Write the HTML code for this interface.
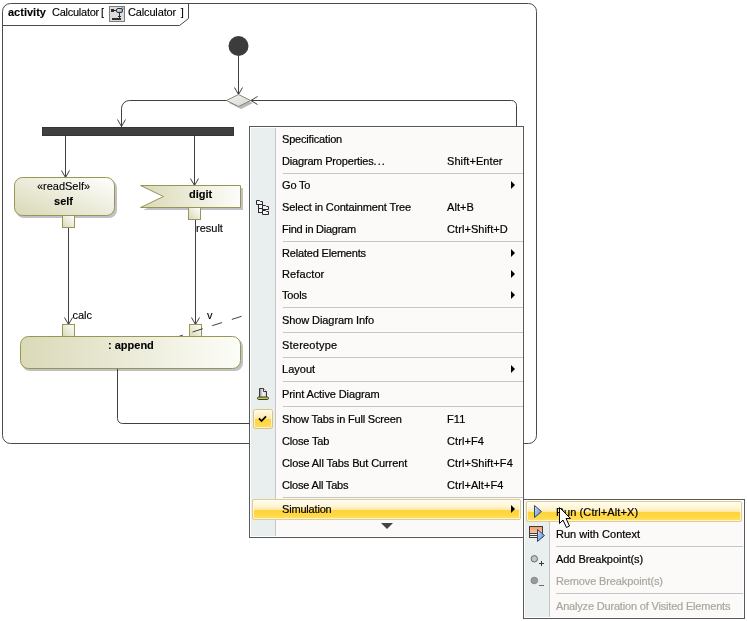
<!DOCTYPE html>
<html><head><meta charset="utf-8">
<style>
html,body{margin:0;padding:0;background:#fff;width:747px;height:621px;overflow:hidden;position:relative}
body{will-change:transform}
.t{position:absolute;font-family:"Liberation Sans",sans-serif;font-size:11px;line-height:13px;white-space:nowrap;color:#000;-webkit-text-stroke:0.12px currentColor}
#menu{position:absolute;left:249px;top:126px;width:273px;height:410px;border:1px solid #595959;background:#fbfaf8;box-shadow:inset 0 0 0 1px #fff}
#menu .side{position:absolute;left:1px;top:1px;width:24px;height:408px;background:#e9eeef;border-right:1px solid #c5c5c5}
.sep{position:absolute;height:1px;background:#c6c6c6}
.hl{position:absolute;border:1px solid #e0cc90;border-radius:2px;box-shadow:inset 0 0 0 1px rgba(255,255,240,0.7);background:linear-gradient(#fffef6 0%,#fff6d6 30%,#ffe9a6 52%,#ffd43a 52.7%,#ffd844 80%,#ffe070 100%)}
.arr{position:absolute;width:0;height:0;border-top:4px solid transparent;border-bottom:4px solid transparent;border-left:4px solid #000}
#sub{position:absolute;left:523px;top:499px;width:220px;height:118px;border:1px solid #595959;background:#fbfaf8;box-shadow:inset 0 0 0 1px #fff}
#sub .side{position:absolute;left:1px;top:1px;width:24px;height:116px;background:#e9eeef;border-right:1px solid #c5c5c5}
.gray{color:#a9a79d}
.m{letter-spacing:-0.18px;-webkit-text-stroke:0.2px currentColor}
.sc{letter-spacing:0.08px;-webkit-text-stroke:0.2px currentColor}
</style></head><body>
<svg width="747" height="621" style="position:absolute;left:0;top:0">
<defs>
<linearGradient id="g1" x1="0" y1="1" x2="1" y2="0"><stop offset="0" stop-color="#d9d8b6"/><stop offset="1" stop-color="#ffffff"/></linearGradient>
<linearGradient id="g2" x1="0" y1="0" x2="1" y2="0"><stop offset="0" stop-color="#dad9b8"/><stop offset="1" stop-color="#fdfdf9"/></linearGradient>
<linearGradient id="gd" x1="0" y1="0" x2="1" y2="1"><stop offset="0" stop-color="#f4f4f4"/><stop offset="1" stop-color="#d6d6d6"/></linearGradient>
</defs>
<!-- frame -->
<path d="M2.5,11.5 A8,8 0 0 1 10.5,3.5 H528.5 A8,8 0 0 1 536.5,11.5 V435.5 A8,8 0 0 1 528.5,443.5 H10.5 A8,8 0 0 1 2.5,435.5 Z" fill="none" stroke="#4a4a4a" stroke-width="1"/>
<path d="M2.5,25.5 H179.5 L188.5,18.5 V3.5" fill="none" stroke="#4a4a4a"/>
<!-- initial node -->
<circle cx="238.5" cy="46" r="10" fill="#3c3c3c"/>
<line x1="238.5" y1="55" x2="238.5" y2="94" stroke="#404040"/>
<path d="M234.5,87.5 L238.5,94.5 L242.5,87.5" fill="none" stroke="#404040"/>
<!-- decision -->
<path d="M229,103 L241,97 L253,103 L241,109 Z" fill="#b8b8b8"/>
<path d="M226.5,100.5 L238.5,94.5 L250.5,100.5 L238.5,106.5 Z" fill="url(#gd)" stroke="#8a8a6a"/>
<path d="M121.5,127 V108.5 A8,8 0 0 1 129.5,100.5 H226.5" fill="none" stroke="#404040"/>
<path d="M117.5,119.5 L121.5,126.5 L125.5,119.5" fill="none" stroke="#404040"/>
<path d="M250.5,100.5 H511.5 A5,5 0 0 1 516.5,105.5 V127" fill="none" stroke="#404040"/>
<path d="M257.5,96.5 L251,100.5 L257.5,104.5" fill="none" stroke="#404040"/>
<!-- fork bar -->
<rect x="42.5" y="127.5" width="191" height="8" fill="#404040" stroke="#353535"/>
<line x1="65.5" y1="136" x2="65.5" y2="177" stroke="#404040"/>
<path d="M61.5,170.5 L65.5,177.5 L69.5,170.5" fill="none" stroke="#404040"/>
<line x1="194.5" y1="136" x2="194.5" y2="185" stroke="#404040"/>
<path d="M190.5,178.5 L194.5,185.5 L198.5,178.5" fill="none" stroke="#404040"/>
<!-- self node -->
<rect x="16" y="180" width="101" height="38" rx="8" fill="#c0c0c6"/>
<rect x="14.5" y="177.5" width="100" height="38" rx="8" fill="url(#g1)" stroke="#989652"/>
<rect x="62.5" y="215.5" width="12" height="12" fill="url(#g1)" stroke="#989652"/>
<line x1="68.5" y1="228" x2="68.5" y2="324" stroke="#404040"/>
<path d="M64.5,317.5 L68.5,324.5 L72.5,317.5" fill="none" stroke="#404040"/>
<!-- digit node -->
<path d="M163.5,188 L243,188 L243,210 L143,210 L166,199.5 L163.5,196.5 Z" fill="#c0c0c6"/>
<path d="M140.5,185.5 L240.5,185.5 L240.5,207.5 L140.5,207.5 L163.5,196.5 Z" fill="url(#g2)" stroke="#989652"/>
<rect x="188.5" y="207.5" width="12" height="12" fill="url(#g1)" stroke="#989652"/>
<line x1="195.5" y1="220" x2="195.5" y2="324" stroke="#404040"/>
<path d="M191.5,317.5 L195.5,324.5 L199.5,317.5" fill="none" stroke="#404040"/>
<!-- append -->
<path d="M173,338.3 L249,313.9" fill="none" stroke="#404040" stroke-dasharray="10.3,10.3"/>
<rect x="22" y="339" width="221" height="32" rx="8" fill="#c0c0c6"/>
<rect x="20.5" y="336.5" width="220" height="32" rx="8" fill="url(#g2)" stroke="#989652"/>
<rect x="62.5" y="324.5" width="12" height="12" fill="url(#g1)" stroke="#989652"/>
<rect x="189.5" y="324.5" width="12" height="12" fill="url(#g1)" stroke="#989652"/>
<path d="M192.6,332 L202.4,328.8" stroke="#404040"/>

<path d="M117.5,369 V418.5 A5,5 0 0 0 122.5,423.5 H250" fill="none" stroke="#404040"/>
<!-- header icon -->
<rect x="109.5" y="6.5" width="15" height="15" fill="#d4d4d4" stroke="#7a7a7a"/>
</svg>
<div class="t" style="left:8px;top:6px;font-weight:bold">activity</div>
<div class="t" style="left:52px;top:6px;letter-spacing:-0.25px">Calculator</div>
<div class="t" style="left:101px;top:6px">[</div>
<div class="t" style="left:128px;top:6px;letter-spacing:-0.15px">Calculator</div>
<div class="t" style="left:180.7px;top:6px">]</div>
<div class="t" style="left:0;width:127px;top:180px;text-align:center">«readSelf»</div>
<div class="t" style="left:0;width:127px;top:195px;text-align:center;font-weight:bold">self</div>
<div class="t" style="left:189px;top:188px;font-weight:bold">digit</div>
<div class="t" style="left:196px;top:222px">result</div>
<div class="t" style="left:72.5px;top:309px">calc</div>
<div class="t" style="left:207px;top:309px">v</div>
<div class="t" style="left:108px;top:339px;font-weight:bold">: append</div>

<div id="menu">
<div class="side"></div>
</div>
<div id="sub"><div class="side"></div></div>
<div class="hl" style="left:252px;top:499px;width:267px;height:19px"></div>
<div class="sep" style="left:283px;top:173px;width:240px"></div>
<div class="sep" style="left:283px;top:241px;width:240px"></div>
<div class="sep" style="left:283px;top:307px;width:240px"></div>
<div class="sep" style="left:283px;top:332px;width:240px"></div>
<div class="sep" style="left:283px;top:357px;width:240px"></div>
<div class="sep" style="left:283px;top:381px;width:240px"></div>
<div class="sep" style="left:283px;top:406px;width:240px"></div>
<div class="sep" style="left:283px;top:497px;width:240px"></div>
<div class="t m" style="left:282px;top:133px">Specification</div>
<div class="t m" style="left:282px;top:155px">Diagram Properties<span style="letter-spacing:1.1px">...</span></div>
<div class="t sc" style="left:447px;top:155px">Shift+Enter</div>
<div class="t m" style="left:282px;top:179px">Go To</div>
<div class="arr" style="left:511px;top:181px"></div>
<div class="t m" style="left:282px;top:201px;letter-spacing:-0.14px">Select in Containment Tree</div>
<div class="t sc" style="left:447px;top:201px">Alt+B</div>
<div class="t m" style="left:282px;top:223px;letter-spacing:-0.25px">Find in Diagram</div>
<div class="t sc" style="left:447px;top:223px">Ctrl+Shift+D</div>
<div class="t m" style="left:282px;top:247px">Related Elements</div>
<div class="arr" style="left:511px;top:249px"></div>
<div class="t m" style="left:282px;top:268px;letter-spacing:0.1px">Refactor</div>
<div class="arr" style="left:511px;top:270px"></div>
<div class="t m" style="left:282px;top:289px">Tools</div>
<div class="arr" style="left:511px;top:291px"></div>
<div class="t m" style="left:282px;top:314px;letter-spacing:-0.09px">Show Diagram Info</div>
<div class="t m" style="left:282px;top:339px;letter-spacing:0.21px">Stereotype</div>
<div class="t m" style="left:282px;top:363px;letter-spacing:0.02px">Layout</div>
<div class="arr" style="left:511px;top:365px"></div>
<div class="t m" style="left:282px;top:388px;letter-spacing:-0.1px">Print Active Diagram</div>
<div class="t m" style="left:282px;top:413px">Show Tabs in Full Screen</div>
<div class="t sc" style="left:447px;top:413px">F11</div>
<div class="t m" style="left:282px;top:435px">Close Tab</div>
<div class="t sc" style="left:447px;top:435px">Ctrl+F4</div>
<div class="t m" style="left:282px;top:457px;letter-spacing:-0.12px">Close All Tabs But Current</div>
<div class="t sc" style="left:447px;top:457px">Ctrl+Shift+F4</div>
<div class="t m" style="left:282px;top:479px">Close All Tabs</div>
<div class="t sc" style="left:447px;top:479px">Ctrl+Alt+F4</div>
<div class="t m" style="left:282px;top:503px">Simulation</div>
<div class="arr" style="left:511px;top:505px"></div>
<div class="arr" style="left:381px;top:523px;border:0;border-left:6px solid transparent;border-right:6px solid transparent;border-top:6px solid #444;margin-left:-0.5px"></div>
<div class="hl" style="left:526px;top:501px;width:214px;height:19px"></div>
<div class="sep" style="left:556px;top:546px;width:187px"></div>
<div class="sep" style="left:556px;top:593px;width:187px"></div>
<div class="t m" style="left:556px;top:506px;letter-spacing:0.09px">Run (Ctrl+Alt+X)</div>
<div class="t m" style="left:556px;top:528px;letter-spacing:0.02px">Run with Context</div>
<div class="t m" style="left:556px;top:553px;letter-spacing:-0.055px">Add Breakpoint(s)</div>
<div class="t m gray" style="left:556px;top:575px;letter-spacing:-0.13px">Remove Breakpoint(s)</div>
<div class="t m gray" style="left:556px;top:600px">Analyze Duration of Visited Elements</div>

<svg width="747" height="621" style="position:absolute;left:0;top:0;pointer-events:none">
<defs>
<linearGradient id="gb" x1="0" y1="0" x2="1" y2="1"><stop offset="0" stop-color="#cfe0f6"/><stop offset="1" stop-color="#4f86cf"/></linearGradient>
<linearGradient id="go" x1="0" y1="0" x2="0" y2="1"><stop offset="0" stop-color="#f49a62"/><stop offset="1" stop-color="#fde4cc"/></linearGradient>
<linearGradient id="gp" x1="0" y1="0" x2="1" y2="0"><stop offset="0" stop-color="#8a8a8a"/><stop offset="0.5" stop-color="#f4f4f4"/><stop offset="1" stop-color="#d0d0d0"/></linearGradient>
<linearGradient id="gc" x1="0" y1="0" x2="0" y2="1"><stop offset="0" stop-color="#fffdf0"/><stop offset="0.49" stop-color="#ffe9a0"/><stop offset="0.5" stop-color="#ffd43a"/><stop offset="1" stop-color="#ffdc60"/></linearGradient>
<linearGradient id="gi" x1="0" y1="0" x2="1" y2="1"><stop offset="0" stop-color="#f2f6fc"/><stop offset="1" stop-color="#7d9cc6"/></linearGradient>
</defs>
<!-- header diagram icon -->
<path d="M109.5,6.5 H121 L124.5,10 V21.5 H109.5 Z" fill="#dcdcdc" stroke="#7c7c7c"/>
<path d="M120.5,7 L124,10.5 L119.5,10.5 Z" fill="#ffffff"/>
<rect x="111" y="9" width="3" height="3" fill="#2e2e2e"/>
<rect x="114" y="10" width="3" height="1" fill="#2e2e2e"/>
<rect x="116.5" y="8.5" width="6" height="4" rx="1.5" fill="url(#gi)" stroke="#303030"/>
<rect x="119" y="12" width="1" height="6" fill="#2e2e2e"/>
<rect x="118" y="16" width="3" height="1" fill="#2e2e2e"/>
<rect x="112" y="18" width="9" height="2" fill="#2e2e2e"/>
<!-- tree icon -->
<g fill="#f2f2f2" stroke="#2a2a2a">
<rect x="258.5" y="204.5" width="4" height="8"/>
<path d="M258.5,208.5 H262.5" fill="none"/>
<path d="M256.5,204.5 V200.5 H259.5 L260.5,201.5 H262.5 V204.5 Z"/>
<path d="M262.5,209.5 V205.5 H265.5 L266.5,206.5 H268.5 V209.5 Z"/>
<path d="M262.5,214.5 V210.5 H265.5 L266.5,211.5 H268.5 V214.5 Z"/>
</g>
<!-- print icon -->
<path d="M259.5,388.5 H263.5 L266.5,391.5 V397.5 H259.5 Z" fill="url(#gp)" stroke="#3a3a3a"/>
<path d="M263.5,388.5 V391.5 H266.5" fill="#fff" stroke="#3a3a3a"/>
<rect x="257.5" y="397" width="11" height="2.5" rx="1.2" fill="#c4d030" stroke="#3a3a3a"/>
<!-- check box -->
<rect x="253.5" y="409.5" width="19" height="19" rx="2" fill="url(#gc)" stroke="#d8c284"/>
<rect x="254.5" y="410.5" width="17" height="17" rx="1" fill="none" stroke="#fffbe8" stroke-opacity="0.8"/>
<path d="M259,418.3 L261.5,421 L266,416.3" fill="none" stroke="#000" stroke-width="1.7"/>
<!-- run icon -->
<path d="M534.5,505.5 L541.5,511.5 L534.5,517.5 Z" fill="url(#gb)" stroke="#33476a"/>
<!-- run with context -->
<rect x="529.5" y="526.5" width="13" height="11" fill="url(#go)" stroke="#3e3e3e"/>
<rect x="530" y="533" width="8" height="1" fill="#3e3e3e"/>
<rect x="530" y="534" width="8" height="1" fill="#fdf4ea"/>
<rect x="530" y="535" width="8" height="1" fill="#3e3e3e"/>
<rect x="530" y="536" width="8" height="1" fill="#fdf4ea"/>
<path d="M537.5,529.5 L544.5,535.5 L537.5,541.5 Z" fill="url(#gb)" stroke="#33476a"/>
<!-- breakpoints -->
<circle cx="534.3" cy="558.8" r="3.2" fill="#c4c4c4" stroke="#6a6a6a"/>
<path d="M539,563.5 H544 M541.5,561 V566" stroke="#3a3a3a"/>
<circle cx="534.3" cy="580.5" r="3.3" fill="#9a9a9a" stroke="#8a8a8a"/>
<path d="M539,585.5 H544" stroke="#6a6a6a"/>
<!-- cursor -->
<path d="M559.5,507.5 V523.5 L563,520 L566.5,527.5 L569.5,526 L566,518.5 L570.5,518.5 Z" fill="#ffffff" stroke="#000000"/>
</svg>
</body></html>
